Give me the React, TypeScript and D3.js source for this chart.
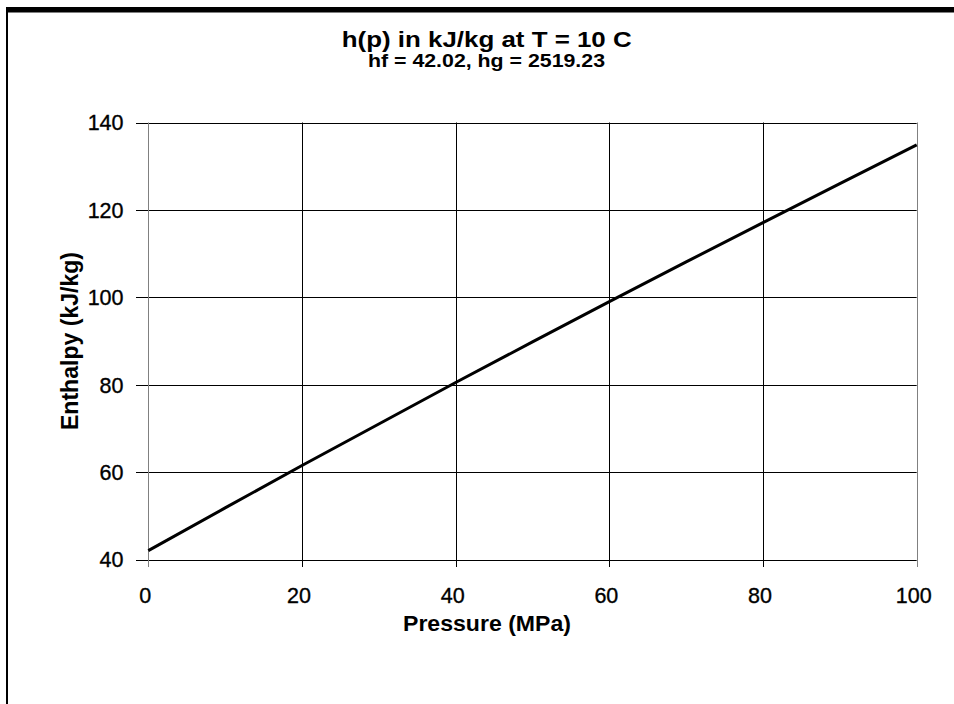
import React from "react";
import * as d3 from "d3";

const pressure = [0, 10, 20, 30, 40, 50, 60, 70, 80, 90, 100];
const enthalpy = [42.02, 51.8, 61.5, 71.0, 80.5, 89.8, 99.0, 108.1, 117.1, 126.0, 134.9];
const xTicks = [0, 20, 40, 60, 80, 100];
const yTicks = [40, 60, 80, 100, 120, 140];
const title = "h(p) in kJ/kg at T = 10 C";
const subtitle = "hf = 42.02, hg = 2519.23";
const xLabel = "Pressure (MPa)";
const yLabel = "Enthalpy (kJ/kg)";

const W = 954;
const H = 704;
const L = 148.3, R = 916.7, T = 122.5, B = 559.5;
const FONT = "'Liberation Sans', Arial, sans-serif";

export default function App() {
  const x = d3.scaleLinear().domain([0, 100]).range([L, R]);
  const y = d3.scaleLinear().domain([40, 140]).range([B, T]);
  const line = d3
    .line<number>()
    .x((_, i) => x(pressure[i]))
    .y((d) => y(d));
  const path = line(enthalpy) || "";
  return (
    <svg
      width={W}
      height={H}
      style={{ position: "absolute", left: 0, top: 0, background: "#fff" }}
      fontFamily={FONT}
    >
      <rect x={0} y={0} width={W} height={H} fill="#fff" />
      {/* outer frame */}
      <rect x={7} y={7} width={W - 7} height={5.5} fill="#000" />
      <rect x={6} y={7} width={2} height={H - 7} fill="#000" />

      {/* horizontal gridlines */}
      {yTicks.map((t) => (
        <line key={"gy" + t} x1={136} x2={R} y1={Math.round(y(t)) + 0.5} y2={Math.round(y(t)) + 0.5} stroke="#000" strokeWidth={1} />
      ))}
      {/* vertical gridlines */}
      {xTicks.map((t) => (
        <line
          key={"gx" + t}
          x1={Math.round(x(t)) + 0.5}
          x2={Math.round(x(t)) + 0.5}
          y1={T}
          y2={B + 7.5}
          stroke={t === 0 || t === 100 ? "#808080" : "#000"}
          strokeWidth={1}
        />
      ))}

      <path d={path} fill="none" stroke="#000" strokeWidth={3} />

      {/* y tick labels */}
      {yTicks.map((t) => (
        <text key={"ly" + t} x={123.5} y={y(t) + 7.8} textAnchor="end" fontSize={21.5} fill="#000" stroke="#000" strokeWidth={0.35}>
          {t}
        </text>
      ))}
      {/* x tick labels */}
      {xTicks.map((t) => (
        <text key={"lx" + t} x={x(t) - 3} y={603} textAnchor="middle" fontSize={21.5} fill="#000" stroke="#000" strokeWidth={0.35}>
          {t}
        </text>
      ))}

      <text x={486.7} y={47} textAnchor="middle" fontSize={22} fontWeight="bold" textLength={290} lengthAdjust="spacingAndGlyphs">
        {title}
      </text>
      <text x={486.5} y={66.5} textAnchor="middle" fontSize={18} fontWeight="bold" textLength={237} lengthAdjust="spacingAndGlyphs">
        {subtitle}
      </text>
      <text x={487} y={630.5} textAnchor="middle" fontSize={21.5} fontWeight="bold" textLength={168} lengthAdjust="spacingAndGlyphs">
        {xLabel}
      </text>
      <text
        transform={`translate(77.5,${(T + B) / 2}) rotate(-90)`}
        textAnchor="middle"
        fontSize={24}
        fontWeight="bold"
        textLength={178}
        lengthAdjust="spacingAndGlyphs"
      >
        {yLabel}
      </text>
    </svg>
  );
}
